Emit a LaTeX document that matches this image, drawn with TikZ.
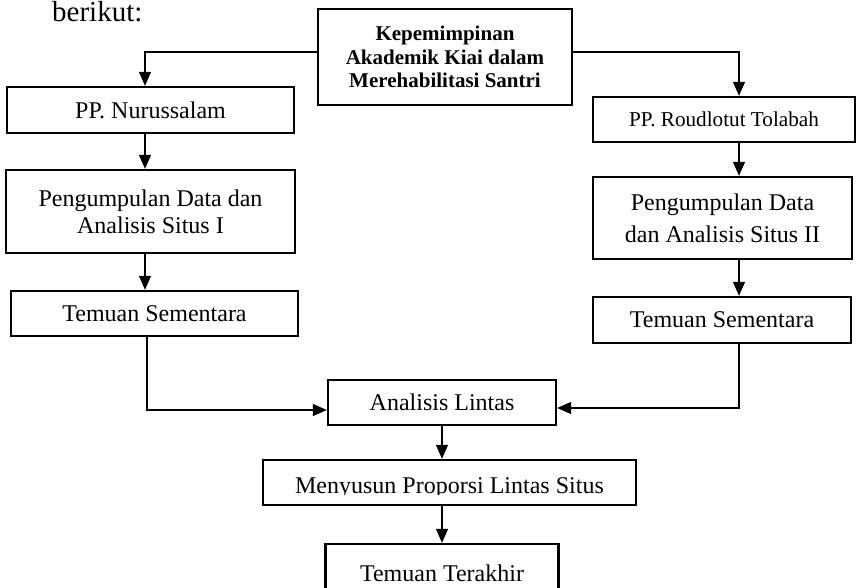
\documentclass[tikz,border=0pt]{standalone}
\usepackage{fontspec}
\setmainfont{Liberation Serif}
\usetikzlibrary{arrows.meta}
\tikzset{
  box/.style={draw, line width=2.4pt, inner sep=0pt, align=center, font=\fontsize{24}{27.4}\selectfont},
  conn/.style={line width=1.3pt, -{Triangle[length=14pt,width=12pt]}},
  plain/.style={line width=1.3pt}
}
\begin{document}
\begin{tikzpicture}[x=1pt,y=-1pt]
\useasboundingbox (0,0) rectangle (856,588);
\node[anchor=base west, inner sep=0pt, font=\fontsize{29}{32}\selectfont] (ber) at (52,22) {berikut:};
\node[box, minimum width=254pt, minimum height=96pt, font=\bfseries\fontsize{21}{23.3}\selectfont] (top) at (445,57) {Kepemimpinan\\Akademik Kiai dalam\\Merehabilitasi Santri};
% left column
\node[box, minimum width=287pt, minimum height=46pt] (a1) at (150.5,110) {PP. Nurussalam};
\node[box, minimum width=289pt, minimum height=83pt] (a2) at (150.5,211.5) {Pengumpulan Data dan\\Analisis Situs I};
\node[box, minimum width=287pt, minimum height=45pt] (a3) at (154.5,313.5) {Temuan Sementara};
% right column
\node[box, minimum width=262pt, minimum height=45pt, font=\fontsize{21.2}{24}\selectfont] (b1) at (724,119.5) {PP. Roudlotut Tolabah};
\node[box, minimum width=259pt, minimum height=82pt, font=\fontsize{24}{31.7}\selectfont] (b2) at (722.5,218) {Pengumpulan Data\\dan Analisis Situs II};
\node[box, minimum width=258pt, minimum height=46pt] (b3) at (722,320) {Temuan Sementara};
% bottom
\node[box, minimum width=228pt, minimum height=45pt] (an) at (442,402.5) {Analisis Lintas};
\node[box, minimum width=373pt, minimum height=45pt] (me) at (449.5,482.5) {};
\begin{scope}
  \clip (263,460) rectangle (636,494);
  \node[anchor=base, inner sep=0pt, font=\fontsize{24}{27}\selectfont] (metext) at (449.5,493) {Menyusun Proporsi Lintas Situs};
\end{scope}
\node[box, minimum width=233pt, minimum height=58pt] (te) at (442,573) {Temuan Terakhir};
% guide coordinates
\coordinate (lx) at (145,0);
\coordinate (rx) at (739,0);
\coordinate (ltop) at (0,52);
% connectors
\draw[conn] (top.west |- ltop) -| (a1.north -| lx);
\draw[conn] (top.east |- ltop) -| (b1.north -| rx);
\draw[conn] (a1.south -| lx) -- (a2.north -| lx);
\draw[conn] (a2.south -| lx) -- (a3.north -| lx);
\draw[conn] (b1.south -| rx) -- (b2.north -| rx);
\draw[conn] (b2.south -| rx) -- (b3.north -| rx);
\draw[conn] ([xshift=-7.5pt]a3.south) |- ([yshift=-7.5pt]an.west);
\draw[conn] (b3.south -| rx) |- ([yshift=-5.5pt]an.east);
\draw[conn] (an.south) -- (an.south |- me.north);
\draw[conn] (me.south -| te.north) -- (te.north);
\end{tikzpicture}
\end{document}
